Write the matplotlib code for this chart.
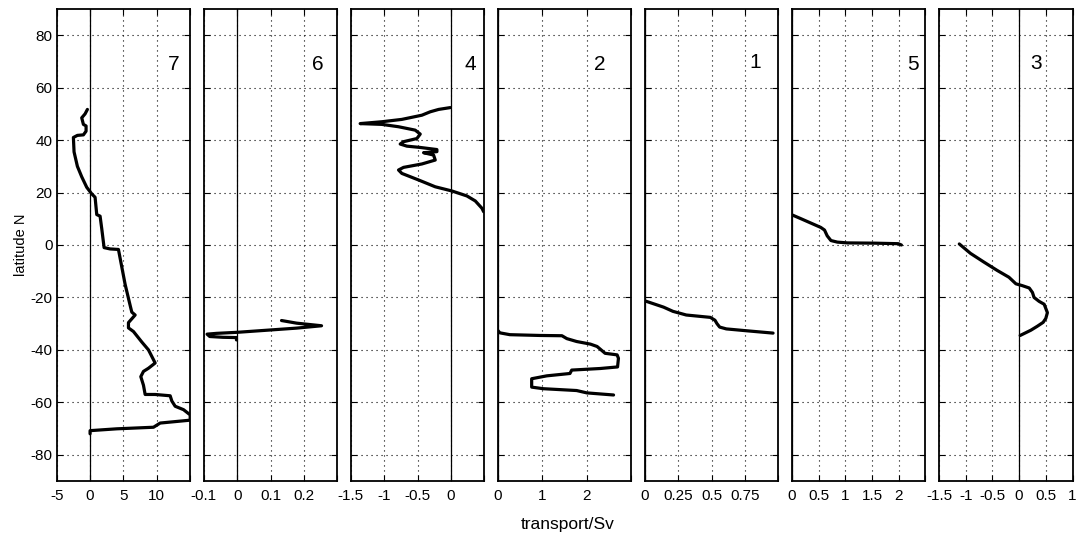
import matplotlib
matplotlib.use("Agg")
import matplotlib.pyplot as plt

plt.rcParams['font.family'] = ['Liberation Sans', 'DejaVu Sans']
plt.rcParams['axes.unicode_minus'] = False

# ---------------- data ----------------
panel_labels = ["7", "6", "4", "2", "1", "5", "3"]

# panel "7"
t_7 = [-0.4, -0.75, -1.25, -1.0, -0.6, -0.6, -1.0, -1.9, -2.5, -2.4, -1.9, -1.25, -0.5,
       0.25, 0.75, 1.0, 1.5, 1.75, 2.1, 3.0, 4.25, 5.25, 6.0, 6.25, 6.75, 5.75, 5.75,
       6.5, 7.75, 8.75, 9.75, 8.75, 8.0, 7.6, 8.0, 8.25, 9.75, 12.0, 12.25, 12.75, 14.0,
       15.0, 15.0, 10.5, 9.5, 4.0, 0.0, 0.0]
lat_7 = [51.7, 50, 48.5, 46, 45.4, 43.4, 42, 41.8, 41, 35.5, 30, 26, 22,
         19.5, 18.2, 11.6, 11, 6.2, -1, -1.5, -1.7, -15, -23, -25.6, -26.7, -29.6, -31.6,
         -33, -37, -40, -45, -47, -48.2, -50.2, -53.5, -57, -57, -57.5, -59.5, -61.5, -62.8,
         -64.8, -66.8, -67.9, -69.5, -70.1, -70.8, -72]

# panel "6"
t_6 = [0.133, 0.178, 0.253, 0.178, 0.078, 0.0, -0.062, -0.09, -0.082, -0.042, -0.002, -0.002]
lat_6 = [-28.8, -29.8, -30.8, -31.7, -32.6, -33.3, -33.7, -34.0, -34.9, -35.2, -35.3, -36.2]

# panel "4"
t_4 = [-0.01, -0.185, -0.31, -0.435, -0.735, -1.035, -1.36, -1.035, -0.785, -0.535, -0.46,
       -0.51, -0.71, -0.76, -0.66, -0.46, -0.21, -0.21, -0.41, -0.26, -0.235, -0.435, -0.71,
       -0.785, -0.735, -0.485, -0.235, 0.015, 0.24, 0.365, 0.465, 0.49]
lat_4 = [52.4, 51.7, 50.8, 49.5, 47.9, 47.0, 46.3, 46.0, 45.1, 43.8, 42.3,
         40.6, 39.4, 38.5, 37.7, 37.2, 36.4, 35.6, 35.2, 34.3, 32.4, 30.9, 29.6,
         28.6, 27.3, 24.8, 22.2, 20.6, 18.7, 16.8, 14.0, 12.7]

# panel "2"
t_2 = [0.0, 0.045, 0.27, 0.95, 1.44, 1.55, 1.77, 2.08, 2.23, 2.41, 2.68, 2.71, 2.69, 2.3,
       1.66, 1.62, 1.10, 0.76, 0.76, 1.02, 1.77, 2.0, 2.6]
lat_2 = [-32.6, -33.5, -34.2, -34.5, -34.6, -35.7, -36.8, -37.8, -38.7, -41.3, -41.9, -43.2,
         -46.5, -47.1, -47.7, -49.0, -49.9, -51.0, -54.2, -54.8, -55.5, -56.4, -57.2]

# panel "1"
t_1 = [0.0, 0.14, 0.21, 0.31, 0.49, 0.525, 0.54, 0.56, 0.61, 0.76, 0.96]
lat_1 = [-21.3, -23.7, -25.3, -26.7, -27.6, -28.7, -30.0, -31.3, -32.0, -32.7, -33.6]

# panel "5"
t_5 = [0.0, 0.16, 0.35, 0.54, 0.61, 0.66, 0.73, 0.85, 1.04, 1.55, 1.99, 2.05]
lat_5 = [11.5, 10.1, 8.4, 6.7, 5.7, 3.5, 1.7, 1.1, 0.8, 0.7, 0.5, 0.0]

# panel "3"
t_3 = [-1.12, -0.91, -0.66, -0.41, -0.19, -0.06, 0.06, 0.19, 0.25, 0.28, 0.375, 0.47,
       0.53, 0.5, 0.45, 0.34, 0.22, 0.12, 0.02]
lat_3 = [0.4, -3.2, -6.5, -9.7, -12.3, -14.8, -15.5, -16.4, -18.1, -20, -21.5, -22.6,
         -25.8, -28, -29.5, -31, -32.5, -33.5, -34.5]

transports = [t_7, t_6, t_4, t_2, t_1, t_5, t_3]
latitudes = [lat_7, lat_6, lat_4, lat_2, lat_1, lat_5, lat_3]

x_limits = [(-5, 15), (-0.1, 0.3), (-1.5, 0.5), (0, 3), (0, 1), (0, 2.5), (-1.5, 1)]
x_ticks = [[-5, 0, 5, 10, 15], [-0.1, 0, 0.1, 0.2, 0.3], [-1.5, -1, -0.5, 0, 0.5],
           [0, 1, 2, 3], [0, 0.25, 0.5, 0.75, 1], [0, 0.5, 1, 1.5, 2, 2.5],
           [-1.5, -1, -0.5, 0, 0.5, 1]]
n_shown = [4, 4, 4, 3, 4, 5, 6]
label_xy = [(12.6, 69), (0.242, 69), (0.29, 69), (2.3, 69), (0.825, 69.5), (2.27, 69), (0.31, 69.3)]
y_ticks = [-80, -60, -40, -20, 0, 20, 40, 60, 80]

# ---------------- figure ----------------
W, H = 1077, 545
fig = plt.figure(figsize=(W / 100, H / 100), dpi=100)
fig.patch.set_facecolor('white')

ax_w = 133.5
bottom_px, top_px = 481, 9

for i in range(7):
    left = 56.7 + i * 147.05
    ax = fig.add_axes([left / W, 1 - bottom_px / H, ax_w / W, (bottom_px - top_px) / H])
    ax.set_xlim(*x_limits[i])
    ax.set_ylim(-90, 90)
    ax.set_xticks(x_ticks[i])
    ax.set_xticklabels(['%g' % v if k < n_shown[i] else '' for k, v in enumerate(x_ticks[i])])
    ax.set_yticks(y_ticks)
    if i == 0:
        ax.set_yticklabels(['%g' % v for v in y_ticks])
        ax.set_ylabel('latitude N', fontsize=10.5, labelpad=2)
    else:
        ax.set_yticklabels([])
    ax.tick_params(direction='in', length=4, width=0.8, top=True, right=True,
                   labelsize=11, pad=6)
    ax.tick_params(axis='y', pad=3)
    ax.grid(True, linestyle=(0, (1, 3.5)), color='k', linewidth=0.8)
    ax.axvline(0, color='k', linewidth=0.9, zorder=2)
    ax.plot(transports[i], latitudes[i], color='k', linewidth=2.3,
            solid_joinstyle='round', solid_capstyle='round', zorder=3)
    ax.text(label_xy[i][0], label_xy[i][1], panel_labels[i], fontsize=15,
            ha='center', va='center')
    for s in ax.spines.values():
        s.set_linewidth(1.3)

fig.text(568 / W, 1 - 525 / H, 'transport/Sv', ha='center', va='center', fontsize=12.5)

fig.savefig('out.png', dpi=100, facecolor='white')
